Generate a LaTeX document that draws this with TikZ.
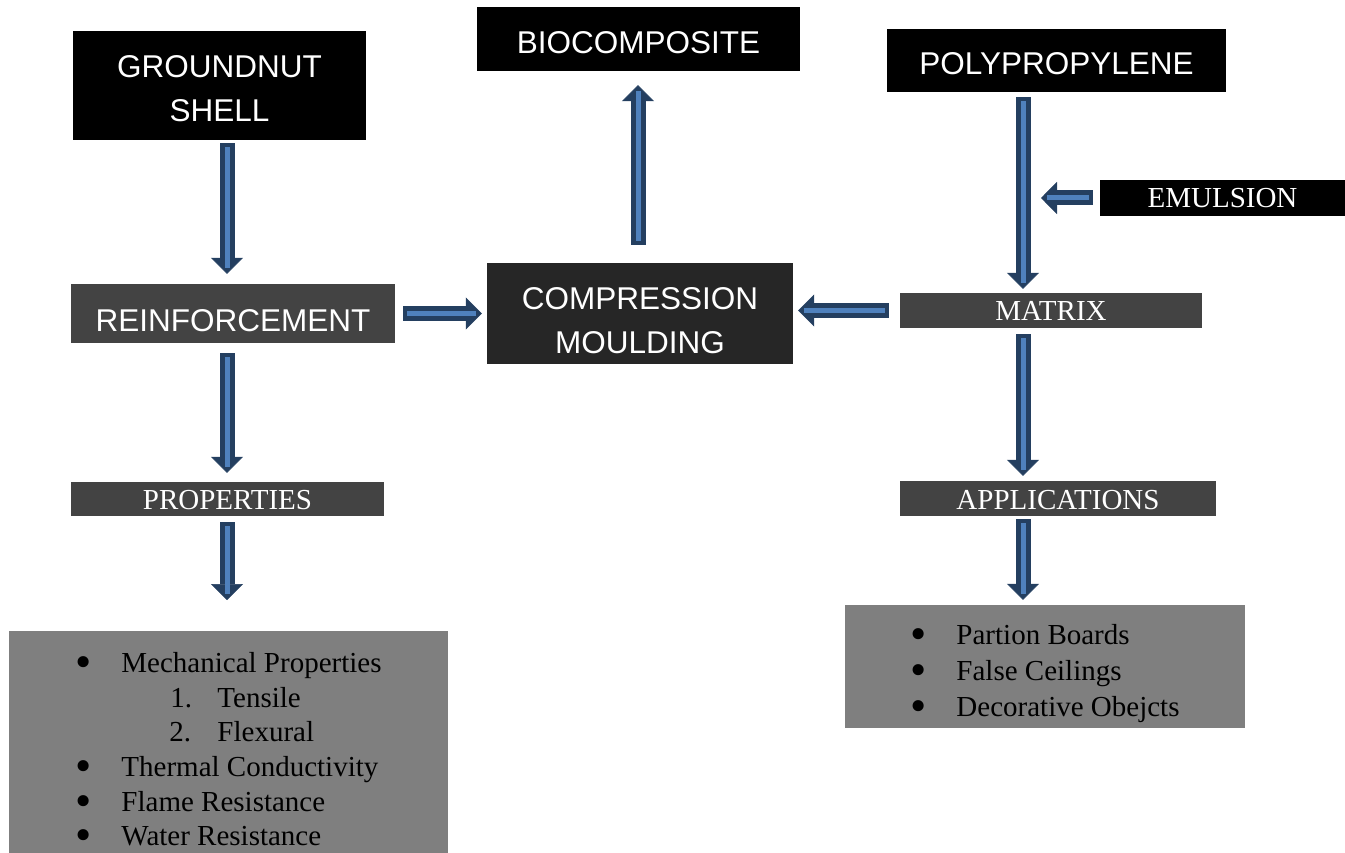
\documentclass[tikz,border=0pt]{standalone}
\usepackage{fontspec}
\setmainfont{Liberation Serif}
\newfontfamily\hdrfont{Liberation Sans}
\usetikzlibrary{arrows.meta}

\definecolor{arrowedge}{HTML}{243F60}
\definecolor{arrowfill}{HTML}{4F81BD}
\definecolor{darkbox}{HTML}{262626}
\definecolor{midbox}{HTML}{434343}
\definecolor{listgray}{HTML}{7F7F7F}

% lower the ink of a label without changing its box
\newcommand\lowered[2]{\raisebox{-#1}[\height][\depth]{#2}}
\newcommand\listdot{\raisebox{-5pt}[0pt][0pt]{\scalebox{1.6}{\textbullet}}}

\begin{document}
\begin{tikzpicture}[
    x=1pt, y=-1pt,
    headbox/.style={rectangle, fill=black, text=white, inner sep=0pt, align=center, font=\hdrfont\fontsize{31.5}{44.5}\selectfont},
    tagbox/.style={rectangle, fill=midbox, text=white, inner sep=0pt, font=\fontsize{29}{34}\selectfont},
    listbox/.style={rectangle, fill=listgray, text=black, inner sep=0pt},
    barrow/.style 2 args={draw=arrowedge, line width=15pt, shorten <=#1, shorten >=#2,
        -{Triangle[width=32pt, length=16pt, line width=0.5pt]},
        postaction={draw=arrowfill, line width=5pt, -, shorten <=#1+4pt, shorten >=#2+6pt}}
]
\useasboundingbox (0,0) rectangle (1345,853);

% ============ COLUMNS FOR THE ARROWS ============
\coordinate (lcol) at (227, 0);
\coordinate (mcol) at (638, 0);
\coordinate (rcol) at (1023, 0);

% ============ TOP ROW ============
\node[headbox, minimum width=293, minimum height=109] (gshell) at (219.5, 85.5) {\lowered{3pt}{GROUNDNUT}\\\lowered{3pt}{SHELL}};
\node[headbox, minimum width=323, minimum height=64] (biocomp) at (638.5, 39) {\lowered{4pt}{BIOCOMPOSITE}};
\node[headbox, minimum width=339, minimum height=63] (polyp) at (1056.5, 60.5) {\lowered{3pt}{POLYPROPYLENE}};
\node[headbox, font=\fontsize{29}{34}\selectfont, minimum width=245, minimum height=36] (emuls) at (1222.5, 198) {EMULSION};

% ============ MIDDLE ROW ============
\node[headbox, fill=midbox, minimum width=324, minimum height=59] (reinf) at (233, 313.5) {\lowered{7pt}{REINFORCEMENT}};
\node[headbox, fill=darkbox, minimum width=306, minimum height=101] (compr) at (640, 313.5) {\lowered{7pt}{COMPRESSION}\\\lowered{7pt}{MOULDING}};
\node[tagbox, minimum width=302, minimum height=35] (matrix) at (1051, 310.5) {MATRIX};

% ============ LOWER ROW ============
\node[tagbox, minimum width=313, minimum height=34] (props) at (227.5, 499) {\lowered{1pt}{PROPERTIES}};
\node[tagbox, minimum width=316, minimum height=35] (apps) at (1058, 498.5) {\lowered{2pt}{APPLICATIONS}};

% Lists
\node[listbox, anchor=north, minimum width=439, minimum height=242, font=\fontsize{29}{34.6}\selectfont] (proplist) at (228.5, 631) {%
    \begin{tabular}{@{}p{46pt}@{}l@{}}
    \listdot & Mechanical Properties\\
    & \hspace*{49pt}\makebox[47pt][l]{1.}Tensile\\
    & \hspace*{48pt}\makebox[48pt][l]{2.}Flexural\\
    \listdot & Thermal Conductivity\\
    \listdot & Flame Resistance\\
    \listdot & Water Resistance
    \end{tabular}};
\node[listbox, minimum width=400, minimum height=123, font=\fontsize{29}{36}\selectfont] (applist) at (1045, 666.5) {%
    \begin{tabular}{@{}p{46pt}@{}l@{}}
    \rule{0pt}{39pt}\listdot & Partion Boards\\
    \listdot & False Ceilings\\
    \listdot & Decorative Obejcts
    \end{tabular}};

% ============ ARROWS ============
\draw[barrow={3pt}{10pt}] (gshell.south -| lcol) -- (reinf.north -| lcol);
\draw[barrow={10pt}{9pt}] (reinf.south -| lcol) -- (props.north -| lcol);
\draw[barrow={6pt}{31pt}] (props.south -| lcol) -- (proplist.north -| lcol);
\draw[barrow={8pt}{5pt}] (reinf.east) -- (compr.west |- reinf.east);
\draw[barrow={11pt}{5pt}] (matrix.west) -- (compr.east |- matrix.west);
\draw[barrow={18pt}{14pt}] (compr.north -| mcol) -- (biocomp.south -| mcol);
\draw[barrow={5pt}{4pt}] (polyp.south -| rcol) -- (matrix.north -| rcol);
\draw[barrow={7pt}{18pt}] (emuls.west) -- (emuls.west -| rcol);
\draw[barrow={6pt}{5pt}] (matrix.south -| rcol) -- (apps.north -| rcol);
\draw[barrow={3pt}{5pt}] (apps.south -| rcol) -- (applist.north -| rcol);

\end{tikzpicture}
\end{document}
